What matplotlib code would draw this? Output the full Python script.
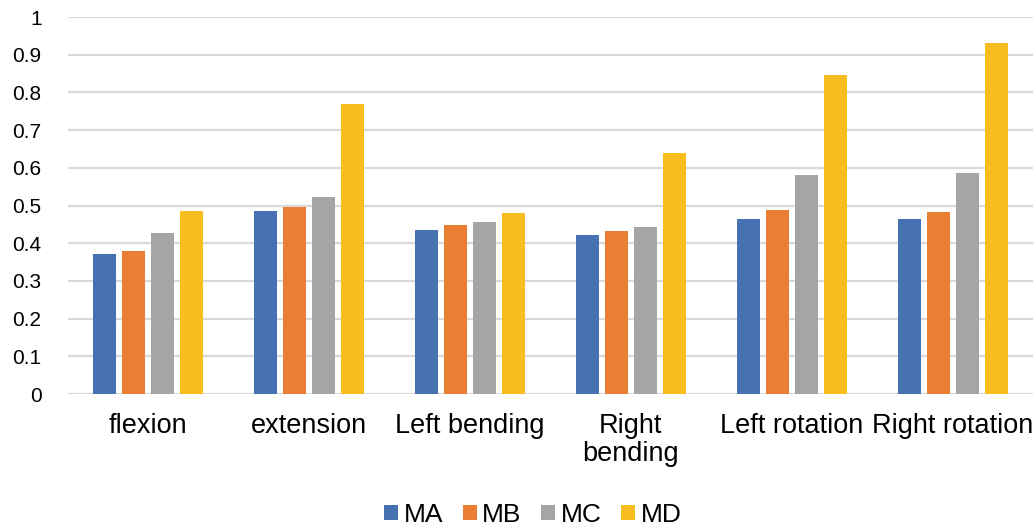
import numpy as np
import matplotlib
matplotlib.use("Agg")
import matplotlib.pyplot as plt

plt.rcParams['font.family'] = ['Liberation Sans', 'DejaVu Sans']

categories = ["flexion", "extension", "Left bending", "Right\nbending",
              "Left rotation", "Right rotation"]
series = ["MA", "MB", "MC", "MD"]
ma = [0.372, 0.486, 0.435, 0.421, 0.463, 0.463]
mb = [0.378, 0.496, 0.447, 0.433, 0.487, 0.482]
mc = [0.428, 0.522, 0.456, 0.444, 0.582, 0.586]
md = [0.486, 0.769, 0.481, 0.638, 0.846, 0.931]
yticks = [0, 0.1, 0.2, 0.3, 0.4, 0.5, 0.6, 0.7, 0.8, 0.9, 1]
ytick_labels = ["0", "0.1", "0.2", "0.3", "0.4", "0.5", "0.6", "0.7", "0.8", "0.9", "1"]

colors = ['#4672B4', '#EA7E32', '#A5A5A5', '#F7BE1E']

fig = plt.figure(figsize=(10.35, 5.26), dpi=100)
ax = fig.add_axes([68 / 1035, 132 / 526, 965 / 1035, 377 / 526])

x = np.arange(len(categories))
step = 0.18
width = 0.143
for i, vals in enumerate([ma, mb, mc, md]):
    ax.bar(x + (i - 1.5) * step, vals, width, color=colors[i], label=series[i],
           zorder=3)

ax.set_xlim(-0.5, len(categories) - 0.5)
ax.set_ylim(0, 1)
ax.set_yticks(yticks)
ax.set_yticklabels(ytick_labels, fontsize=15)
ax.set_xticks(x)
ax.set_xticklabels(categories, fontsize=19.5, linespacing=1.1)
ax.tick_params(axis='y', length=0, pad=19)
ax.tick_params(axis='x', length=0, pad=14)
ax.grid(axis='y', color='#D9D9D9', linewidth=1.6, zorder=0)
for s in ax.spines.values():
    s.set_visible(False)

ax.legend(loc='center', bbox_to_anchor=(533 / 1035, 11 / 526),
          bbox_transform=fig.transFigure, ncol=4, frameon=False, fontsize=19,
          handlelength=0.53, handleheight=0.53, handletextpad=0.2,
          columnspacing=0.75, borderaxespad=0, borderpad=0)

fig.savefig("out.png", dpi=100)
